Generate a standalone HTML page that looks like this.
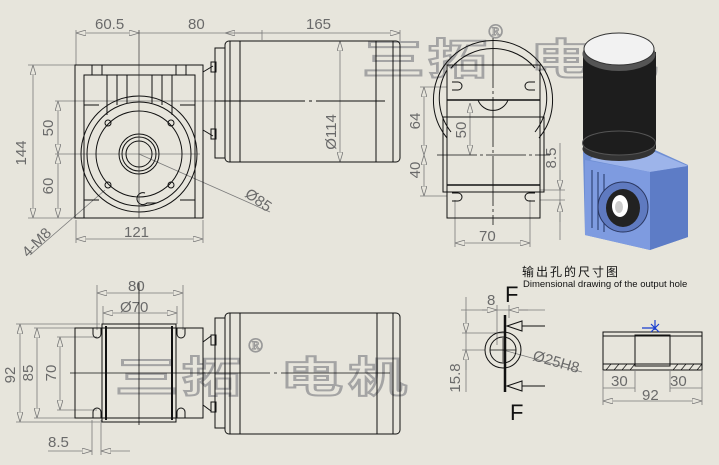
<!DOCTYPE html>
<html><head><meta charset="utf-8"><style>
html,body{margin:0;padding:0;background:#e7e5dc;}
svg{display:block;}
.d{stroke:#7a7a7a;stroke-width:0.8;fill:none}
.k{stroke:#111;stroke-width:1;fill:none}
.kb{stroke:#111;stroke-width:2;fill:none}
.t{font-family:"Liberation Sans",sans-serif;fill:#6a6a6a;font-size:15px}
.wm{font-family:"Noto Sans CJK SC",sans-serif;font-size:42px;fill:#e7e5dc;stroke:#a4a4a4;stroke-width:2;font-weight:bold}
</style></head><body>
<svg width="719" height="465" viewBox="0 0 719 465" xmlns="http://www.w3.org/2000/svg">
<defs>
<marker id="a" viewBox="0 0 10 6" refX="10" refY="3" markerWidth="10" markerHeight="6" orient="auto-start-reverse" markerUnits="userSpaceOnUse"><path d="M0,0 L10,3 L0,6 Z" fill="#e7e5dc" stroke="#777" stroke-width="0.8"/></marker>
</defs>
<rect width="719" height="465" fill="#e7e5dc"/>

<!-- watermarks -->
<g class="wm">
<text transform="translate(362,74) scale(1.5,1)">三</text>
<text transform="translate(428,74) scale(1.4,1)">拓</text>
<text transform="translate(530,74) scale(1.5,1)">电</text>
<text transform="translate(598,74) scale(1.4,1)">机</text>
<text transform="translate(115,392) scale(1.5,1)">三</text>
<text transform="translate(182,392) scale(1.4,1)">拓</text>
<text transform="translate(280,392) scale(1.5,1)">电</text>
<text transform="translate(348,392) scale(1.4,1)">机</text>
</g>
<text x="488" y="38" font-family="Liberation Serif,serif" font-size="20" fill="none" stroke="#999">®</text>
<text x="248" y="352" font-family="Liberation Serif,serif" font-size="20" fill="none" stroke="#999">®</text>

<!-- ===== TOP LEFT VIEW ===== -->
<g class="d">
<line x1="76" y1="30" x2="76" y2="65"/><line x1="262" y1="30" x2="262" y2="40"/>
<line x1="76" y1="33" x2="139" y2="33" marker-start="url(#a)" marker-end="url(#a)"/>
<line x1="139" y1="33" x2="225" y2="33"/>
<line x1="225" y1="33" x2="262" y2="33" marker-start="url(#a)"/>
<line x1="225" y1="33" x2="400" y2="33" marker-end="url(#a)"/>
<line x1="400" y1="30" x2="400" y2="41"/>
<line x1="340" y1="41" x2="340" y2="162" marker-start="url(#a)" marker-end="url(#a)"/>
<line x1="28" y1="65" x2="75" y2="65"/><line x1="28" y1="218" x2="75" y2="218"/>
<line x1="33" y1="65" x2="33" y2="218" marker-start="url(#a)" marker-end="url(#a)"/>
<line x1="55" y1="101" x2="215" y2="101"/>
<line x1="58" y1="101" x2="58" y2="154" marker-start="url(#a)" marker-end="url(#a)"/>
<line x1="58" y1="154" x2="58" y2="218" marker-start="url(#a)" marker-end="url(#a)"/>
<line x1="55" y1="154" x2="200" y2="154"/>
<line x1="76" y1="220" x2="76" y2="243"/><line x1="203" y1="220" x2="203" y2="243"/>
<line x1="76" y1="239" x2="203" y2="239" marker-start="url(#a)" marker-end="url(#a)"/>
<line x1="139" y1="154" x2="270" y2="212"/>
<line x1="105" y1="190" x2="30" y2="255"/>
</g>
<text class="t" x="95" y="29">60.5</text>
<text class="t" x="188" y="29">80</text>
<text class="t" x="306" y="29">165</text>
<text class="t" x="26" y="153" transform="rotate(-90 26 153)" text-anchor="middle">144</text>
<text class="t" x="53" y="128" transform="rotate(-90 53 128)" text-anchor="middle">50</text>
<text class="t" x="53" y="186" transform="rotate(-90 53 186)" text-anchor="middle">60</text>
<text class="t" x="124" y="237">121</text>
<text class="t" x="336" y="132" transform="rotate(-90 336 132)" text-anchor="middle">Ø114</text>
<text class="t" x="244" y="196" transform="rotate(35 244 196)">Ø85</text>
<text class="t" x="28" y="258" transform="rotate(-45 28 258)">4-M8</text>

<g class="k">
<rect x="75" y="65" width="128" height="153"/>
<rect x="84" y="75" width="111" height="143"/>
<path d="M92 65v10M102 65v10M176 65v10M186 65v10"/>
<path d="M107 75v40M117 75v30M127 75v28M152 75v28M162 75v30M172 75v40"/>
<path d="M84 105h15M180 105h15M84 200h15M180 200h15"/>
<circle cx="139" cy="154" r="58"/>
<circle cx="139" cy="154" r="52"/>
<circle cx="139" cy="154" r="43"/>
<circle cx="139" cy="154" r="20"/>
<circle cx="139" cy="154" r="17"/>
<circle cx="139" cy="154" r="13"/>
<circle cx="108" cy="123" r="3"/><circle cx="171" cy="123" r="3"/>
<circle cx="108" cy="185" r="3"/><circle cx="171" cy="185" r="3"/>
<path d="M145 193 a6 6 0 1 0 2 10 h10"/>
<path d="M203 72l10-6M203 130l10 6"/>
<rect x="211" y="62" width="5" height="10"/><rect x="211" y="129" width="5" height="10"/>
<rect x="215" y="48" width="10" height="110"/>
<rect x="225" y="41" width="175" height="121" rx="4"/>
<path d="M230 41v121M240 41v121M376 41v121M393 41v121"/>
</g>
<line x1="139" y1="30" x2="139" y2="218" stroke="#333" stroke-width="0.7"/>
<line x1="215" y1="101" x2="385" y2="101" stroke="#111" stroke-width="1" stroke-dasharray="90 4 3 4"/>

<!-- ===== SIDE VIEW ===== -->
<g class="d">
<line x1="420" y1="87" x2="447" y2="87"/>
<line x1="420" y1="196" x2="447" y2="196"/>
<line x1="424" y1="87" x2="424" y2="155" marker-start="url(#a)" marker-end="url(#a)"/>
<line x1="424" y1="155" x2="424" y2="196" marker-start="url(#a)" marker-end="url(#a)"/>
<line x1="470" y1="103" x2="470" y2="155" marker-start="url(#a)" marker-end="url(#a)"/>
<line x1="560" y1="143" x2="560" y2="240"/>
<line x1="560" y1="170" x2="560" y2="190" marker-end="url(#a)"/>
<line x1="560" y1="222" x2="560" y2="202" marker-end="url(#a)"/>
<line x1="540" y1="190" x2="565" y2="190"/><line x1="540" y1="200" x2="565" y2="200"/>
<line x1="455" y1="200" x2="455" y2="247"/><line x1="530" y1="200" x2="530" y2="247"/>
<line x1="455" y1="243" x2="530" y2="243" marker-start="url(#a)" marker-end="url(#a)"/>
</g>
<text class="t" x="420" y="121" transform="rotate(-90 420 121)" text-anchor="middle">64</text>
<text class="t" x="420" y="170" transform="rotate(-90 420 170)" text-anchor="middle">40</text>
<text class="t" x="466" y="130" transform="rotate(-90 466 130)" text-anchor="middle">50</text>
<text class="t" x="556" y="158" transform="rotate(-90 556 158)" text-anchor="middle">8.5</text>
<text class="t" x="479" y="241">70</text>
<g class="k">
<path d="M447 138 A60 60 0 0 1 447 62 A60 60 0 0 1 539 62 A60 60 0 0 1 539 138"/>
<path d="M451 132 A55 55 0 0 1 447 70 M451 68 A55 55 0 0 1 535 68 M539 70 A55 55 0 0 1 535 132"/>
<rect x="447" y="65" width="93" height="153"/>
<rect x="443" y="117" width="101" height="75"/>
<line x1="447" y1="100" x2="540" y2="100" stroke-width="1.5"/>
<line x1="447" y1="185" x2="540" y2="185" stroke-width="1.5"/>
<path d="M478 100 A16 16 0 0 0 508 100"/>
<path d="M452 82h6a4 4 0 0 1 0 8h-6M535 82h-6a4 4 0 0 0 0 8h6"/>
<path d="M452 193h6a4 4 0 0 1 0 8h-6M535 193h-6a4 4 0 0 0 0 8h6"/>
</g>
<line x1="493" y1="38" x2="493" y2="225" stroke="#111" stroke-width="0.8" stroke-dasharray="50 3 3 3"/>
<line x1="437" y1="155" x2="550" y2="155" stroke="#111" stroke-width="0.8" stroke-dasharray="40 3 3 3"/>

<!-- ===== 3D ===== -->
<g>
<polygon points="583,152 600,147 655,150 688,165 688,237 650,250 585,235" fill="#6f8fd4"/>
<polygon points="600,150 655,152 688,166 650,172 590,160" fill="#9db4ea"/>
<polygon points="650,172 688,166 688,237 650,250" fill="#5d7cc6"/>
<polygon points="585,160 650,172 650,250 585,235" fill="#7e9be0"/>
<path d="M592 170v58M598 172v58M604 174v58" stroke="#33467a" stroke-width="1.2"/>
<circle cx="623" cy="207" r="25" fill="#5f7ac0" stroke="#2a3760"/>
<ellipse cx="623" cy="208" rx="17" ry="19" fill="#222"/>
<ellipse cx="620" cy="206" rx="8" ry="11" fill="#fff"/>
<ellipse cx="619" cy="207" rx="4" ry="6" fill="#ccc"/>
<rect x="583" y="52" width="73" height="97" fill="#1d1d1d"/>
<ellipse cx="619" cy="149" rx="36.5" ry="12" fill="#333"/>
<ellipse cx="619" cy="143" rx="36.5" ry="12" fill="#1d1d1d" stroke="#555"/>
<ellipse cx="619" cy="54" rx="36.5" ry="17" fill="#555"/>
<ellipse cx="619" cy="49" rx="35" ry="16" fill="#f2f2f2" stroke="#333"/>
</g>

<!-- ===== BOTTOM VIEW ===== -->
<g class="d">
<line x1="97" y1="285" x2="97" y2="330"/><line x1="183" y1="285" x2="183" y2="330"/>
<line x1="97" y1="293" x2="183" y2="293" marker-start="url(#a)" marker-end="url(#a)"/>
<line x1="103" y1="306" x2="103" y2="324"/><line x1="177" y1="306" x2="177" y2="324"/>
<line x1="103" y1="313" x2="177" y2="313" marker-start="url(#a)" marker-end="url(#a)"/>
<line x1="16" y1="324" x2="100" y2="324"/><line x1="16" y1="422" x2="100" y2="422"/>
<line x1="20" y1="324" x2="20" y2="422" marker-start="url(#a)" marker-end="url(#a)"/>
<line x1="34" y1="328" x2="75" y2="328"/><line x1="34" y1="418" x2="75" y2="418"/>
<line x1="37" y1="328" x2="37" y2="418" marker-start="url(#a)" marker-end="url(#a)"/>
<line x1="57" y1="337" x2="97" y2="337"/><line x1="57" y1="410" x2="97" y2="410"/>
<line x1="60" y1="337" x2="60" y2="410" marker-start="url(#a)" marker-end="url(#a)"/>
<line x1="92" y1="420" x2="92" y2="455"/><line x1="101" y1="420" x2="101" y2="455"/>
<line x1="48" y1="451" x2="92" y2="451" marker-end="url(#a)"/>
<line x1="130" y1="451" x2="101" y2="451" marker-end="url(#a)"/>
</g>
<text class="t" x="128" y="291">80</text>
<text class="t" x="120" y="312">Ø70</text>
<text class="t" x="15" y="375" transform="rotate(-90 15 375)" text-anchor="middle">92</text>
<text class="t" x="33" y="373" transform="rotate(-90 33 373)" text-anchor="middle">85</text>
<text class="t" x="56" y="373" transform="rotate(-90 56 373)" text-anchor="middle">70</text>
<text class="t" x="48" y="447">8.5</text>
<g class="k">
<rect x="75" y="328" width="128" height="90"/>
<rect x="102" y="324" width="74" height="98"/>
<line x1="106" y1="326" x2="106" y2="420" class="kb"/>
<line x1="172" y1="326" x2="172" y2="420" class="kb"/>
<line x1="102" y1="328" x2="176" y2="328"/><line x1="102" y1="418" x2="176" y2="418"/>
<path d="M93 328v6a4 4 0 0 0 8 0v-6M177 328v6a4 4 0 0 0 8 0v-6"/>
<path d="M93 418v-6a4 4 0 0 1 8 0v6M177 418v-6a4 4 0 0 1 8 0v6"/>
<path d="M203 342l8-6M203 405l8 6"/>
<rect x="211" y="335" width="5" height="10"/><rect x="211" y="402" width="5" height="10"/>
<rect x="215" y="318" width="10" height="110"/>
<rect x="225" y="313" width="175" height="121" rx="4"/>
<path d="M230 313v121M240 313v121M377 313v121M393 313v121"/>
</g>
<line x1="139" y1="283" x2="139" y2="425" stroke="#111" stroke-width="0.8"/>
<line x1="70" y1="373" x2="390" y2="373" stroke="#111" stroke-width="0.8" stroke-dasharray="200 4 3 4"/>

<!-- ===== OUTPUT HOLE ===== -->
<text x="522" y="276" font-family="Liberation Sans,'Noto Sans CJK SC',sans-serif" font-size="12" fill="#111" letter-spacing="2">输出孔的尺寸图</text>
<text x="523" y="287" font-family="Liberation Sans,sans-serif" font-size="9.5" fill="#111">Dimensional drawing of the output hole</text>
<text x="505" y="302" font-family="Liberation Sans,sans-serif" font-size="22" fill="#111">F</text>
<text x="510" y="420" font-family="Liberation Sans,sans-serif" font-size="22" fill="#111">F</text>
<g class="d">
<line x1="461" y1="310" x2="545" y2="310"/>
<line x1="482" y1="310" x2="497" y2="310" marker-end="url(#a)"/>
<line x1="528" y1="310" x2="509" y2="310" marker-end="url(#a)"/>
<line x1="497" y1="305" x2="497" y2="345"/><line x1="509" y1="305" x2="509" y2="318"/>
<line x1="462" y1="333" x2="505" y2="333"/><line x1="462" y1="350" x2="485" y2="350"/>
<line x1="466" y1="297" x2="466" y2="392"/>
<line x1="466" y1="312" x2="466" y2="333" marker-end="url(#a)"/>
<line x1="466" y1="370" x2="466" y2="350" marker-end="url(#a)"/>
<line x1="503" y1="350" x2="582" y2="372"/>
</g>
<text class="t" x="487" y="305" font-size="13">8</text>
<text class="t" x="460" y="378" transform="rotate(-90 460 378)" font-size="13" text-anchor="middle">15.8</text>
<text class="t" x="532" y="360" transform="rotate(16 532 360)" font-size="14">Ø25H8</text>
<g class="k">
<circle cx="503" cy="350" r="18"/>
<circle cx="503" cy="350" r="13"/>
<line x1="505" y1="315" x2="505" y2="392" stroke-width="2.5"/>
<line x1="507" y1="326" x2="545" y2="326"/><path d="M507 326l15-5v10z" fill="#e7e5dc"/>
<line x1="507" y1="386" x2="545" y2="386"/><path d="M507 386l15-5v10z" fill="#e7e5dc"/>
<line x1="490" y1="350" x2="516" y2="350" stroke-width="0.7"/>
<line x1="503" y1="338" x2="503" y2="362" stroke-width="0.7"/>
<rect x="603" y="332" width="99" height="38"/>
<line x1="603" y1="336" x2="702" y2="336"/>
<line x1="603" y1="364" x2="702" y2="364"/>
<rect x="635" y="335" width="35" height="31"/>
<path d="M606 370l5-6M614 370l5-6M622 370l5-6M630 370l5-6M673 370l5-6M681 370l5-6M689 370l5-6M697 370l5-6" stroke-width="0.7"/>
</g>
<path d="M642 328h14M655 320v10M651 324l8 8M659 324l-8 8" stroke="#1a3fd0" stroke-width="1.2" fill="none"/>
<g class="d">
<line x1="603" y1="370" x2="603" y2="405"/><line x1="635" y1="370" x2="635" y2="392"/>
<line x1="670" y1="370" x2="670" y2="392"/><line x1="702" y1="370" x2="702" y2="405"/>
<line x1="603" y1="388" x2="635" y2="388"/><line x1="670" y1="388" x2="702" y2="388"/>
<line x1="603" y1="401" x2="702" y2="401" marker-start="url(#a)" marker-end="url(#a)"/>
</g>
<text class="t" x="611" y="386" font-size="14">30</text>
<text class="t" x="670" y="386" font-size="14">30</text>
<text class="t" x="642" y="400" font-size="14">92</text>
</svg>
</body></html>
